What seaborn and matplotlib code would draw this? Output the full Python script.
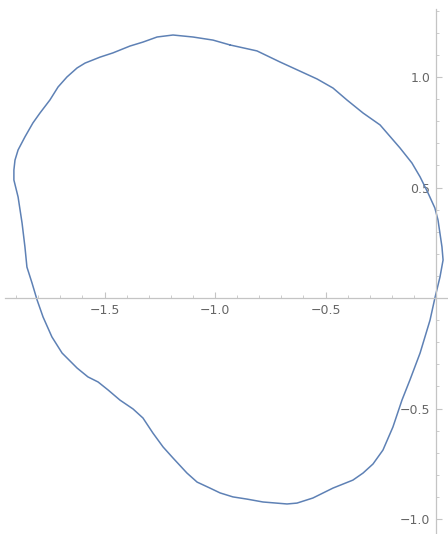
import numpy as np
import pandas as pd
import matplotlib
matplotlib.use('Agg')
import matplotlib.pyplot as plt
import seaborn as sns
from matplotlib.ticker import FixedLocator, MultipleLocator

# Точки замкнутой кривой
curve_x = [-0.932, -1.009, -1.100, -1.190, -1.262, -1.326, -1.385, -1.462, -1.520, -1.588,
           -1.624, -1.670, -1.710, -1.747, -1.792, -1.824, -1.860, -1.891, -1.905, -1.910,
           -1.910, -1.891, -1.873, -1.860, -1.851, -1.828, -1.805, -1.778, -1.738, -1.692,
           -1.624, -1.575, -1.529, -1.484, -1.430, -1.371, -1.326, -1.281, -1.235, -1.190,
           -1.127, -1.081, -1.023, -0.977, -0.919, -0.855, -0.783, -0.674, -0.629, -0.557,
           -0.466, -0.376, -0.330, -0.285, -0.240, -0.195, -0.154, -0.118, -0.072, -0.027,
           -0.005, 0.018, 0.032, 0.027, 0.009, -0.005, -0.036, -0.072, -0.109, -0.163,
           -0.253, -0.330, -0.403, -0.466, -0.538, -0.647, -0.706, -0.810]
curve_y = [1.145, 1.167, 1.181, 1.190, 1.181, 1.158, 1.140, 1.109, 1.090, 1.063,
           1.041, 1.000, 0.955, 0.896, 0.837, 0.792, 0.729, 0.670, 0.624, 0.579,
           0.534, 0.457, 0.339, 0.231, 0.140, 0.068, -0.009, -0.086, -0.176, -0.249,
           -0.317, -0.357, -0.380, -0.416, -0.462, -0.502, -0.543, -0.611, -0.674, -0.724,
           -0.792, -0.833, -0.860, -0.882, -0.900, -0.910, -0.923, -0.932, -0.928, -0.905,
           -0.860, -0.824, -0.792, -0.751, -0.688, -0.584, -0.462, -0.371, -0.249, -0.100,
           0.000, 0.095, 0.172, 0.231, 0.353, 0.407, 0.475, 0.548, 0.611, 0.679,
           0.783, 0.837, 0.896, 0.950, 0.991, 1.041, 1.068, 1.118]

x_major = [-1.5, -1.0, -0.5]
y_major = [-1.0, -0.5, 0.5, 1.0]

df = pd.DataFrame({'x': curve_x + curve_x[:1], 'y': curve_y + curve_y[:1]})

sns.set_style('white')
fig = plt.figure(figsize=(4.48, 5.34), dpi=100)
ax = fig.add_axes([0, 0, 1, 1])

sns.lineplot(data=df, x='x', y='y', sort=False, estimator=None,
             color='#5E81B5', linewidth=1.1, ax=ax)

scale = 221.0
ax.set_xlim(-436 / scale, 12 / scale)
ax.set_ylim(-236 / scale, 298 / scale)
ax.set_xlabel('')
ax.set_ylabel('')

# Оси в стиле Mathematica через начало координат
axis_color = '#c4c4c4'
ax.spines['top'].set_visible(False)
ax.spines['right'].set_visible(False)
for spine in ['left', 'bottom']:
    ax.spines[spine].set_position(('data', 0))
    ax.spines[spine].set_color(axis_color)
    ax.spines[spine].set_linewidth(0.9)
ax.spines['bottom'].set_bounds(-431 / scale, 12 / scale)
ax.spines['left'].set_bounds(-236 / scale, 289 / scale)

ax.xaxis.set_major_locator(FixedLocator(x_major))
ax.yaxis.set_major_locator(FixedLocator(y_major))
ax.xaxis.set_minor_locator(MultipleLocator(0.1))
ax.yaxis.set_minor_locator(MultipleLocator(0.1))

ax.tick_params(axis='both', which='major', direction='in', length=4, width=0.8,
               color=axis_color, labelcolor='#666666', labelsize=9, pad=4)
ax.tick_params(axis='both', which='minor', direction='in', length=2.5, width=0.6,
               color=axis_color)
ax.tick_params(axis='x', which='both', bottom=True, top=False)
ax.tick_params(axis='y', which='both', left=True, right=False)
ax.xaxis.set_major_formatter(plt.FuncFormatter(lambda v, p: f'{v:.1f}'.replace('-', '\u2212')))
ax.yaxis.set_major_formatter(plt.FuncFormatter(lambda v, p: f'{v:.1f}'.replace('-', '\u2212')))

ax.grid(False)
fig.patch.set_facecolor('white')
ax.set_facecolor('white')

fig.savefig('out.png', dpi=100, facecolor='white')
